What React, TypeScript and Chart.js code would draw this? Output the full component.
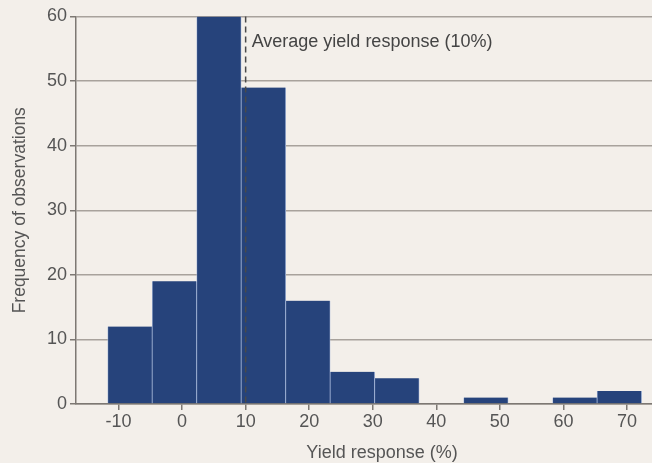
import React, { useEffect, useRef } from "react";
import { Chart, registerables } from "chart.js";

Chart.register(...registerables);

// Histogram bins (centre of each 7-point-wide bin, % yield response)
const binCenters = [-8.2, -1.2, 5.8, 12.8, 19.8, 26.8, 33.8, 40.8, 47.8, 54.8, 61.8, 68.8];
// Frequency of observations in each bin
const frequencies = [12, 19, 60, 49, 16, 5, 4, 0, 1, 0, 1, 2];
// X axis tick labels
const xTicks = [-10, 0, 10, 20, 30, 40, 50, 60, 70];
// Y axis ticks
const yTicks = [0, 10, 20, 30, 40, 50, 60];
// Average yield response
const averageResponse = 10;
const averageLabel = "Average yield response (10%)";
const xTitle = "Yield response (%)";
const yTitle = "Frequency of observations";

const FONT = "'Liberation Sans', Arial, sans-serif";
const GRID = "#a8a29c";
const AXIS = "#7d7873";
const TEXT = "#555";

export default function App() {
  const ref = useRef<HTMLCanvasElement | null>(null);

  useEffect(() => {
    if (!ref.current) return;
    const avgPlugin = {
      id: "avgLine",
      afterDatasetsDraw(chart: any) {
        const { ctx, chartArea, scales } = chart;
        const x = scales.x.getPixelForValue(averageResponse);
        ctx.save();
        ctx.strokeStyle = "#4a4a4a";
        ctx.lineWidth = 1.5;
        ctx.setLineDash([6, 4]);
        ctx.beginPath();
        ctx.moveTo(x, chartArea.top);
        ctx.lineTo(x, chartArea.bottom);
        ctx.stroke();
        ctx.setLineDash([]);
        ctx.fillStyle = "#444";
        ctx.font = `18px ${FONT}`;
        ctx.textAlign = "left";
        ctx.textBaseline = "middle";
        ctx.fillText(averageLabel, x + 6, chartArea.top + 26);
        ctx.restore();
      },
    };

    const chart = new Chart(ref.current, {
      type: "bar",
      data: {
        datasets: [
          {
            data: binCenters.map((c, i) => ({ x: c, y: frequencies[i] })),
            backgroundColor: "#26437b",
            borderColor: "#a9badb",
            borderWidth: { left: 0.75, right: 0.75, top: 0, bottom: 0 },
            borderSkipped: false,
            barPercentage: 1,
            categoryPercentage: 1,
          },
        ],
      },
      options: {
        animation: false,
        responsive: false,
        maintainAspectRatio: false,
        layout: { padding: { top: 16.5, right: 0, left: 0, bottom: 0 } },
        plugins: { legend: { display: false }, tooltip: { enabled: false } },
        scales: {
          x: {
            type: "linear",
            offset: false,
            min: -16.69,
            max: 79.6,
            afterBuildTicks: (scale: any) => {
              scale.ticks = xTicks.map((v) => ({ value: v }));
            },
            afterFit: (scale: any) => {
              scale.height = 59;
            },
            grid: {
              offset: false,
              drawOnChartArea: false,
              drawTicks: true,
              tickLength: 6,
              color: AXIS,
              lineWidth: 1.5,
            },
            border: { display: true, color: AXIS, width: 1.5 },
            ticks: {
              color: TEXT,
              font: { family: FONT, size: 18 },
              padding: 1,
              maxRotation: 0,
              autoSkip: false,
            },
            title: {
              display: true,
              text: xTitle,
              color: TEXT,
              font: { family: FONT, size: 18, lineHeight: 1.1 },
              padding: { top: 0, bottom: 0 },
            },
          },
          y: {
            min: 0,
            max: 60,
            afterBuildTicks: (scale: any) => {
              scale.ticks = yTicks.map((v) => ({ value: v }));
            },
            afterFit: (scale: any) => {
              scale.width = 76;
            },
            grid: {
              color: GRID,
              lineWidth: 1.5,
              tickLength: 6,
              tickColor: AXIS,
            },
            border: { display: true, color: AXIS, width: 1.5 },
            ticks: {
              color: TEXT,
              font: { family: FONT, size: 18 },
              padding: 3,
            },
            title: {
              display: true,
              text: yTitle,
              color: TEXT,
              font: { family: FONT, size: 17.5, lineHeight: 1.2 },
              padding: { top: 9.5, bottom: 0 },
            },
          },
        },
      },
      plugins: [avgPlugin],
    });
    return () => chart.destroy();
  }, []);

  return (
    <div
      style={{
        position: "fixed",
        left: 0,
        top: 0,
        width: 652,
        height: 463,
        overflow: "hidden",
        background: "#f3efea",
      }}
    >
      <canvas ref={ref} width={688} height={463} style={{ display: "block", width: 688, height: 463 }} />
    </div>
  );
}
